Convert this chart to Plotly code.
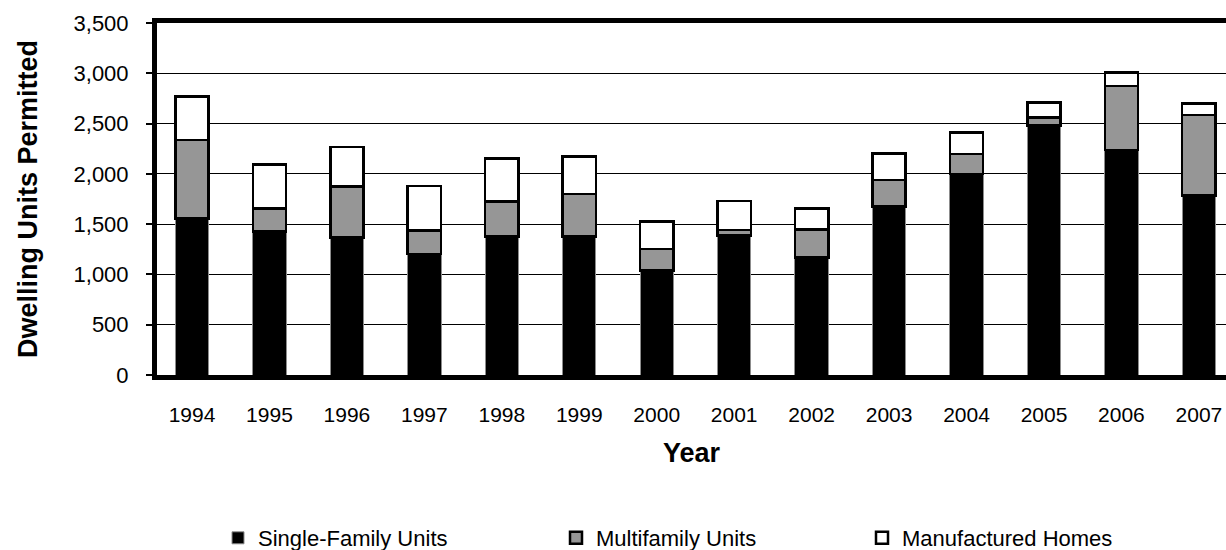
import plotly.graph_objects as go

# dwelling units permitted per year
years = ["1994", "1995", "1996", "1997", "1998", "1999", "2000",
         "2001", "2002", "2003", "2004", "2005", "2006", "2007"]
single_family = [1558, 1425, 1365, 1203, 1375, 1375, 1037,
                 1385, 1170, 1673, 1999, 2479, 2237, 1783]
multifamily = [779, 233, 507, 232, 348, 425, 216,
               57, 279, 266, 198, 83, 637, 802]
manufactured = [434, 437, 395, 444, 432, 371, 275,
                288, 205, 261, 212, 146, 136, 117]

y_ticks = [0, 500, 1000, 1500, 2000, 2500, 3000, 3500]

FONT = "Arial, Liberation Sans, sans-serif"
W, H = 1226, 550

fig = go.Figure()
fig.add_trace(go.Bar(
    x=years, y=single_family, name="Single-Family Units",
    marker=dict(color="#000000", line=dict(color="#8c8c8c", width=1)),
    width=0.43, legend="legend",
))
fig.add_trace(go.Bar(
    x=years, y=multifamily, name="Multifamily Units",
    marker=dict(color="#969696", line=dict(color="#000000", width=2.5)),
    width=0.43, legend="legend2",
))
fig.add_trace(go.Bar(
    x=years, y=manufactured, name="Manufactured Homes",
    marker=dict(color="#ffffff", line=dict(color="#000000", width=2.5)),
    width=0.43, legend="legend3",
))

legend_common = dict(
    orientation="h", xref="container", yref="container",
    yanchor="middle", y=1 - 538 / H,
    font=dict(family=FONT, size=22, color="#000000"),
    bgcolor="rgba(0,0,0,0)", itemwidth=30,
)

fig.update_layout(
    width=W, height=H,
    margin=dict(l=157, r=0, t=23, b=175, autoexpand=False),
    paper_bgcolor="white", plot_bgcolor="white",
    barmode="stack", bargap=0.57,
    font=dict(family=FONT, size=22, color="#000000"),
    showlegend=True,
    legend=dict(legend_common, x=218 / W),
    legend2=dict(legend_common, x=556 / W),
    legend3=dict(legend_common, x=862 / W),
    xaxis=dict(
        type="category", range=[-0.452, 13.35], automargin=False,
        showline=True, linecolor="#000000", linewidth=5, mirror=True,
        ticks="", showgrid=False, ticklabelstandoff=17,
        tickfont=dict(family=FONT, size=21, color="#000000"),
        title=dict(text="Year", standoff=19,
                   font=dict(family=FONT, size=27, color="#000000", weight="bold")),
    ),
    yaxis=dict(
        range=[0, 3500], tickvals=y_ticks, tickformat=",d", automargin=False,
        showline=True, linecolor="#000000", linewidth=5, mirror=False,
        ticks="outside", ticklen=6, tickwidth=2, tickcolor="#000000",
        ticklabelstandoff=13,
        showgrid=True, gridcolor="#000000", gridwidth=1,
        zeroline=False,
        tickfont=dict(family=FONT, size=22, color="#000000"),
        title=dict(text="Dwelling Units Permitted", standoff=30,
                   font=dict(family=FONT, size=27, color="#000000", weight="bold")),
    ),
)

# drop the default 8px page margin so the figure sits flush with the window
fig.write_html(
    "out.html",
    config={"displayModeBar": False},
    post_script="document.body.style.margin = '0';",
)
